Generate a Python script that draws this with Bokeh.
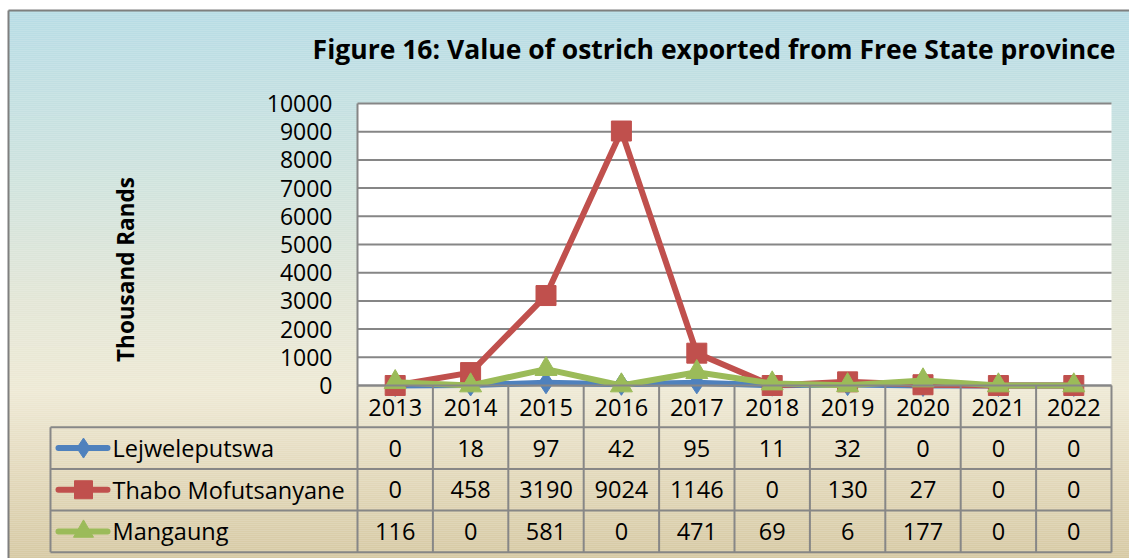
import numpy as np
from bokeh.plotting import figure
from bokeh.models import Range1d
from bokeh.core.properties import value
from bokeh.embed import file_html
from bokeh.resources import INLINE

# ---------------- data ----------------
years = ["2013", "2014", "2015", "2016", "2017", "2018", "2019", "2020", "2021", "2022"]
lejweleputswa = [0, 18, 97, 42, 95, 11, 32, 0, 0, 0]
thabo = [0, 458, 3190, 9024, 1146, 0, 130, 27, 0, 0]
mangaung = [116, 0, 581, 0, 471, 69, 6, 177, 0, 0]
series_names = ["Lejweleputswa", "Thabo Mofutsanyane", "Mangaung"]
y_ticks = [0, 1000, 2000, 3000, 4000, 5000, 6000, 7000, 8000, 9000, 10000]
y_tick_labels = [str(t) for t in y_ticks]
title_text = "Figure 16: Value of ostrich exported from Free State province"
y_label = "Thousand Rands"

# ---------------- layout (canvas pixels) ----------------
W, H = 1129, 558
PL, PR = 357, 1111       # plot frame left/right
PT, PB = 103, 385        # plot frame top (10000) / bottom (0)
YMAX = 10000
n = len(years)
colw = (PR - PL) / n

FONT = value("Open Sans")
BLUE, RED, GREEN = "#4f81bd", "#c0504d", "#9bbb59"
GRID = "#868686"

p = figure(width=W, height=H, output_backend="svg", toolbar_location=None,
           x_range=Range1d(0, W), y_range=Range1d(H, 0),
           min_border=0, outline_line_color=None)
p.axis.visible = False
p.grid.visible = False
p.background_fill_color = "white"
p.border_fill_color = "white"

# scales for data
ppv = (PB - PT) / YMAX
p.extra_y_ranges = {"yr": Range1d(start=(PB - H) / ppv, end=PB / ppv)}
p.extra_x_ranges = {"xr": Range1d(start=-0.5 - PL / colw, end=-0.5 + (W - PL) / colw)}

# ---------------- background gradient ----------------
stops_y = [10, 150, 300, 390, 470, 558]
stops_c = ["#b7dce5", "#cbe2df", "#e3e6d6", "#eee9d5", "#e3d9bc", "#d6c9a3"]
def hex2rgb(h):
    return np.array([int(h[i:i + 2], 16) for i in (1, 3, 5)], dtype=float)
rgbs = np.array([hex2rgb(c) for c in stops_c])
ys = np.arange(10, H, 2)
cols = []
for yy in ys:
    r = [np.interp(yy, stops_y, rgbs[:, k]) for k in range(3)]
    cols.append("#%02x%02x%02x" % tuple(int(round(v)) for v in r))
p.quad(left=8, right=W, top=ys, bottom=ys + 2.2, fill_color=cols, line_color=None)
# outer border (top & left)
p.segment(x0=[8, 8], y0=[10, 10], x1=[W, 8], y1=[10, H], line_color="#7f7f7f", line_width=2)

# ---------------- plot frame ----------------
p.quad(left=PL, right=PR, top=PT, bottom=PB, fill_color="white", line_color=None)
p.segment(x0=PL, x1=PR, y0=y_ticks, y1=y_ticks, y_range_name="yr",
          line_color=GRID, line_width=2)
p.segment(x0=[PL], x1=[PL], y0=[PT], y1=[PB], line_color=GRID, line_width=2)
p.text(x=332, y=y_ticks, text=y_tick_labels, y_range_name="yr",
       text_font=FONT, text_font_size="23px", text_align="right",
       text_baseline="middle", text_color="black")

# title & y label
p.text(x=[1115], y=[48], text=[title_text], text_font=FONT, text_font_size="26.5px",
       text_font_style="bold", text_align="right", text_baseline="middle", text_color="black")
p.text(x=[125], y=[269], text=[y_label], angle=np.pi / 2,
       text_font=FONT, text_font_size="22.5px", text_font_style="bold",
       text_align="center", text_baseline="middle", text_color="black")

# ---------------- series ----------------
LW = 6
xi = list(range(n))
p.line(xi, lejweleputswa, x_range_name="xr", y_range_name="yr", line_color=BLUE,
       line_width=LW, line_join="round")
p.scatter(xi, lejweleputswa, x_range_name="xr", y_range_name="yr", marker="diamond",
          size=22, fill_color=BLUE, line_color=BLUE)
p.line(xi, thabo, x_range_name="xr", y_range_name="yr", line_color=RED,
       line_width=LW, line_join="round")
p.scatter(xi, thabo, x_range_name="xr", y_range_name="yr", marker="square",
          size=20, fill_color=RED, line_color=RED)
p.line(xi, mangaung, x_range_name="xr", y_range_name="yr", line_color=GREEN,
       line_width=LW, line_join="round")
p.scatter(xi, mangaung, x_range_name="xr", y_range_name="yr", marker="triangle",
          size=22, fill_color=GREEN, line_color=GREEN)

# ---------------- data table ----------------
HB = 426.7          # header bottom
ROWH = 41.7
row_lines = [HB + k * ROWH for k in range(4)]
TB = row_lines[-1]
LEGL = 50
bounds = [i - 0.5 for i in range(n + 1)]
TCOL = "#878787"
p.segment(x0=bounds, x1=bounds, y0=PB, y1=TB, x_range_name="xr", line_color=TCOL, line_width=2)
p.segment(x0=LEGL, x1=PR, y0=row_lines, y1=row_lines, line_color=TCOL, line_width=2)
p.segment(x0=[LEGL], x1=[LEGL], y0=[HB], y1=[TB], line_color=TCOL, line_width=2)
p.segment(x0=[PL], x1=[PR], y0=[PB], y1=[PB], line_color=TCOL, line_width=2)

p.text(x=xi, y=[(PB + HB) / 2 + 1] * n, text=years, x_range_name="xr",
       text_font=FONT, text_font_size="23.5px", text_align="center",
       text_baseline="middle", text_color="black")

all_series = [lejweleputswa, thabo, mangaung]
colors = [BLUE, RED, GREEN]
markers = ["diamond", "square", "triangle"]
msize = [20, 18, 20]
for k, (vals, nm, c, m, ms) in enumerate(zip(all_series, series_names, colors, markers, msize)):
    yc = HB + (k + 0.5) * ROWH
    p.text(x=xi, y=[yc] * n, text=[str(v) for v in vals], x_range_name="xr",
           text_font=FONT, text_font_size="23.5px", text_align="center",
           text_baseline="middle", text_color="black")
    p.segment(x0=[58], x1=[107], y0=[yc], y1=[yc], line_color=c, line_width=LW, line_cap="round")
    p.scatter([83], [yc], marker=m, size=ms, fill_color=c, line_color=c)
    p.text(x=[112], y=[yc], text=[nm], text_font=FONT, text_font_size="23.5px",
           text_align="left", text_baseline="middle", text_color="black")

open("out.html", "w").write(file_html(p, INLINE))
